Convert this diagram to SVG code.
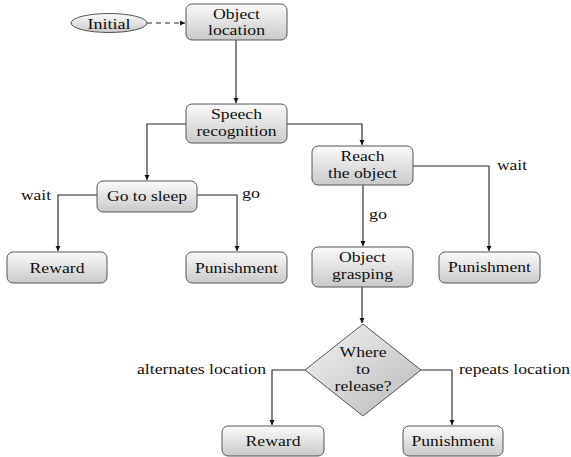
<svg xmlns="http://www.w3.org/2000/svg" width="571" height="457" viewBox="0 0 571 457">
<defs>
<linearGradient id="g" x1="0" y1="0" x2="0" y2="1">
<stop offset="0" stop-color="#fbfbfb"/>
<stop offset="1" stop-color="#c9c9c9"/>
</linearGradient>
<linearGradient id="gd" x1="0" y1="0" x2="1" y2="1">
<stop offset="0" stop-color="#f4f4f4"/>
<stop offset="1" stop-color="#b8b8b8"/>
</linearGradient>
<marker id="a" markerWidth="6" markerHeight="6" refX="5" refY="3" orient="auto" markerUnits="userSpaceOnUse">
<path d="M0,0.5 L5,3 L0,5.5 Z" fill="#111"/>
</marker>
</defs>
<style>
.n{fill:url(#g);stroke:#555;stroke-width:1}
.d{fill:url(#gd);stroke:#555;stroke-width:1}
text{font-family:"Liberation Serif",Tinos,"Times New Roman",Times,"Nimbus Roman","Nimbus Roman No9 L",FreeSerif,"DejaVu Serif","Noto Serif",serif;font-size:15px;fill:#111}
.t{text-anchor:middle}
.c{fill:none;stroke:#222;stroke-width:1.1}
</style>
<rect width="571" height="457" fill="#fff"/>
<g id="connectors">
<path class="c" d="M147,23 L185,23" stroke-dasharray="5,4" marker-end="url(#a)"/>
<path class="c" d="M236,40 L236,103" marker-end="url(#a)"/>
<path class="c" d="M186,124 L147,124 L147,180" marker-end="url(#a)"/>
<path class="c" d="M287,124 L362,124 L362,145" marker-end="url(#a)"/>
<path class="c" d="M97,195 L58,195 L58,251" marker-end="url(#a)"/>
<path class="c" d="M197,195 L237,195 L237,251" marker-end="url(#a)"/>
<path class="c" d="M413,166 L489,166 L489,251" marker-end="url(#a)"/>
<path class="c" d="M363,185 L363,246" marker-end="url(#a)"/>
<path class="c" d="M362,287 L362,323" marker-end="url(#a)"/>
<path class="c" d="M305,370 L272,370 L272,425" marker-end="url(#a)"/>
<path class="c" d="M421,370 L452,370 L452,425" marker-end="url(#a)"/>
<text x="21" y="200" textLength="30" lengthAdjust="spacingAndGlyphs">wait</text>
<text x="242" y="198" textLength="18" lengthAdjust="spacingAndGlyphs">go</text>
<text x="497" y="170" textLength="30" lengthAdjust="spacingAndGlyphs">wait</text>
<text x="369" y="219" textLength="18" lengthAdjust="spacingAndGlyphs">go</text>
<text x="137" y="374" textLength="129" lengthAdjust="spacingAndGlyphs">alternates location</text>
<text x="459" y="374" textLength="111" lengthAdjust="spacingAndGlyphs">repeats location</text>
</g>
<g id="initial">
<ellipse class="n" cx="109" cy="23" rx="38" ry="9.5"/>
<text class="t" x="109" y="28.5" textLength="43" lengthAdjust="spacingAndGlyphs">Initial</text>
</g>
<g id="object-location">
<rect class="n" x="186" y="4" width="101" height="36" rx="6"/>
<text class="t" x="236.5" y="18.5" textLength="47" lengthAdjust="spacingAndGlyphs">Object</text>
<text class="t" x="236.5" y="35" textLength="57" lengthAdjust="spacingAndGlyphs">location</text>
</g>
<g id="speech-recognition">
<rect class="n" x="186" y="104" width="101" height="39" rx="6"/>
<text class="t" x="236.5" y="118.5" textLength="51" lengthAdjust="spacingAndGlyphs">Speech</text>
<text class="t" x="236.5" y="135.5" textLength="80" lengthAdjust="spacingAndGlyphs">recognition</text>
</g>
<g id="go-to-sleep">
<rect class="n" x="97" y="181" width="100" height="31" rx="6"/>
<text class="t" x="147" y="201" textLength="80" lengthAdjust="spacingAndGlyphs">Go to sleep</text>
</g>
<g id="reward-1">
<rect class="n" x="7" y="252" width="100" height="31" rx="6"/>
<text class="t" x="57" y="272.5" textLength="55" lengthAdjust="spacingAndGlyphs">Reward</text>
</g>
<g id="punishment-1">
<rect class="n" x="186" y="252" width="101" height="31" rx="6"/>
<text class="t" x="236.5" y="272.5" textLength="83" lengthAdjust="spacingAndGlyphs">Punishment</text>
</g>
<g id="reach-object">
<rect class="n" x="312" y="146" width="101" height="39" rx="6"/>
<text class="t" x="362.5" y="160.5" textLength="44" lengthAdjust="spacingAndGlyphs">Reach</text>
<text class="t" x="362.5" y="177.5" textLength="69" lengthAdjust="spacingAndGlyphs">the object</text>
</g>
<g id="object-grasping">
<rect class="n" x="312" y="247" width="101" height="40" rx="6"/>
<text class="t" x="362.5" y="261.5" textLength="47" lengthAdjust="spacingAndGlyphs">Object</text>
<text class="t" x="362.5" y="278.5" textLength="61" lengthAdjust="spacingAndGlyphs">grasping</text>
</g>
<g id="punishment-2">
<rect class="n" x="439" y="252" width="101" height="31" rx="6"/>
<text class="t" x="489.5" y="272" textLength="83" lengthAdjust="spacingAndGlyphs">Punishment</text>
</g>
<g id="where-to-release">
<path class="d" d="M363,324 L421,370 L363,416 L305,370 Z"/>
<text class="t" x="363" y="357" textLength="47" lengthAdjust="spacingAndGlyphs">Where</text>
<text class="t" x="363" y="374" textLength="14" lengthAdjust="spacingAndGlyphs">to</text>
<text class="t" x="363" y="391" textLength="57" lengthAdjust="spacingAndGlyphs">release?</text>
</g>
<g id="reward-2">
<rect class="n" x="222" y="426" width="102" height="30" rx="6"/>
<text class="t" x="273" y="446" textLength="55" lengthAdjust="spacingAndGlyphs">Reward</text>
</g>
<g id="punishment-3">
<rect class="n" x="403" y="426" width="100" height="30" rx="6"/>
<text class="t" x="453" y="446" textLength="83" lengthAdjust="spacingAndGlyphs">Punishment</text>
</g>
</svg>
